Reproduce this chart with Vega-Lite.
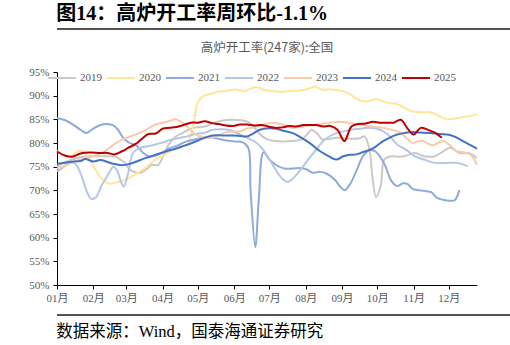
{
  "$schema": "https://vega.github.io/schema/vega-lite/v6.json",
  "padding": {"left": 3, "right": 0, "top": 4, "bottom": 0},
  "spacing": 11,
  "resolve": {"scale": {"color": "independent", "strokeWidth": "independent"}, "legend": {"color": "independent", "strokeWidth": "independent"}},
  "config": {
    "font": "Liberation Serif, Noto Sans CJK SC",
    "view": {"stroke": null}
  },
  "vconcat": [
    {
      "width": 502,
      "height": 2,
      "title": {"text": "图14：高炉开工率周环比-1.1%", "anchor": "start", "font": "Liberation Serif, Noto Sans CJK SC", "fontSize": 20, "fontWeight": "bold", "color": "#000000", "offset": 4},
      "data": {"values": [{"line": 1}]},
      "mark": {"type": "rule", "color": "#1a1a1a", "strokeWidth": 1.5},
      "encoding": {"y": {"field": "line", "type": "quantitative", "axis": null, "scale": {"domain": [0, 2]}}}
    },
    {
      "width": 420,
      "height": 213,
      "title": {"text": "高炉开工率(247家):全国", "anchor": "middle", "font": "Noto Sans CJK SC", "fontSize": 12.5, "fontWeight": "normal", "color": "#595959", "offset": 9},
      "data": {"values": [
        {"year":"2019","day":0,"rate":75.0},{"year":"2019","day":5,"rate":75.7},{"year":"2019","day":13,"rate":76.5},{"year":"2019","day":20,"rate":77.0},{"year":"2019","day":27,"rate":77.2},{"year":"2019","day":34,"rate":77.2},{"year":"2019","day":42,"rate":77.2},{"year":"2019","day":50,"rate":77.1},{"year":"2019","day":54,"rate":76.5},{"year":"2019","day":58,"rate":75.8},{"year":"2019","day":62,"rate":74.4},{"year":"2019","day":67,"rate":73.8},{"year":"2019","day":71,"rate":73.7},{"year":"2019","day":76,"rate":74.4},{"year":"2019","day":81,"rate":75.4},{"year":"2019","day":86,"rate":75.3},{"year":"2019","day":90,"rate":77.0},{"year":"2019","day":95,"rate":79.6},{"year":"2019","day":101,"rate":81.3},{"year":"2019","day":107,"rate":82.1},{"year":"2019","day":113,"rate":82.9},{"year":"2019","day":119,"rate":83.3},{"year":"2019","day":126,"rate":83.5},{"year":"2019","day":133,"rate":84.2},{"year":"2019","day":140,"rate":84.7},{"year":"2019","day":149,"rate":84.9},{"year":"2019","day":157,"rate":84.8},{"year":"2019","day":164,"rate":84.3},{"year":"2019","day":169,"rate":83.0},{"year":"2019","day":175,"rate":81.4},{"year":"2019","day":180,"rate":80.7},{"year":"2019","day":186,"rate":80.4},{"year":"2019","day":193,"rate":80.3},{"year":"2019","day":200,"rate":80.4},{"year":"2019","day":209,"rate":80.8},{"year":"2019","day":213,"rate":81.8},{"year":"2019","day":217,"rate":82.8},{"year":"2019","day":222,"rate":81.9},{"year":"2019","day":226,"rate":80.8},{"year":"2019","day":233,"rate":80.9},{"year":"2019","day":238,"rate":81.1},{"year":"2019","day":245,"rate":81.0},{"year":"2019","day":251,"rate":80.9},{"year":"2019","day":258,"rate":81.0},{"year":"2019","day":262,"rate":81.4},{"year":"2019","day":266,"rate":79.0},{"year":"2019","day":269,"rate":72.5},{"year":"2019","day":272,"rate":68.6},{"year":"2019","day":276,"rate":71.0},{"year":"2019","day":279,"rate":76.5},{"year":"2019","day":285,"rate":77.2},{"year":"2019","day":292,"rate":77.1},{"year":"2019","day":296,"rate":77.2},{"year":"2019","day":305,"rate":77.9},{"year":"2019","day":313,"rate":77.2},{"year":"2019","day":322,"rate":77.2},{"year":"2019","day":329,"rate":78.2},{"year":"2019","day":335,"rate":79.0},{"year":"2019","day":343,"rate":77.9},{"year":"2019","day":352,"rate":77.8},{"year":"2019","day":358,"rate":76.8},
        {"year":"2020","day":0,"rate":78.4},{"year":"2020","day":5,"rate":77.6},{"year":"2020","day":10,"rate":77.2},{"year":"2020","day":15,"rate":77.8},{"year":"2020","day":20,"rate":78.4},{"year":"2020","day":25,"rate":77.6},{"year":"2020","day":30,"rate":75.5},{"year":"2020","day":35,"rate":73.5},{"year":"2020","day":40,"rate":72.0},{"year":"2020","day":45,"rate":71.4},{"year":"2020","day":51,"rate":71.7},{"year":"2020","day":57,"rate":72.1},{"year":"2020","day":62,"rate":72.7},{"year":"2020","day":68,"rate":73.6},{"year":"2020","day":75,"rate":74.7},{"year":"2020","day":81,"rate":75.9},{"year":"2020","day":86,"rate":76.8},{"year":"2020","day":92,"rate":77.5},{"year":"2020","day":98,"rate":78.5},{"year":"2020","day":105,"rate":79.2},{"year":"2020","day":111,"rate":79.7},{"year":"2020","day":114,"rate":81.5},{"year":"2020","day":117,"rate":85.0},{"year":"2020","day":120,"rate":88.5},{"year":"2020","day":124,"rate":89.8},{"year":"2020","day":130,"rate":90.3},{"year":"2020","day":137,"rate":90.8},{"year":"2020","day":144,"rate":91.0},{"year":"2020","day":152,"rate":91.3},{"year":"2020","day":160,"rate":91.0},{"year":"2020","day":166,"rate":91.6},{"year":"2020","day":171,"rate":91.8},{"year":"2020","day":177,"rate":91.2},{"year":"2020","day":183,"rate":91.0},{"year":"2020","day":190,"rate":90.8},{"year":"2020","day":198,"rate":91.0},{"year":"2020","day":207,"rate":91.1},{"year":"2020","day":215,"rate":91.5},{"year":"2020","day":220,"rate":91.9},{"year":"2020","day":226,"rate":91.3},{"year":"2020","day":233,"rate":91.3},{"year":"2020","day":238,"rate":91.2},{"year":"2020","day":244,"rate":90.9},{"year":"2020","day":250,"rate":90.3},{"year":"2020","day":255,"rate":89.4},{"year":"2020","day":261,"rate":88.8},{"year":"2020","day":267,"rate":88.9},{"year":"2020","day":272,"rate":89.3},{"year":"2020","day":278,"rate":88.8},{"year":"2020","day":284,"rate":88.4},{"year":"2020","day":290,"rate":88.2},{"year":"2020","day":296,"rate":87.5},{"year":"2020","day":301,"rate":86.8},{"year":"2020","day":309,"rate":86.5},{"year":"2020","day":318,"rate":86.5},{"year":"2020","day":324,"rate":85.9},{"year":"2020","day":330,"rate":85.2},{"year":"2020","day":335,"rate":85.0},{"year":"2020","day":341,"rate":85.2},{"year":"2020","day":346,"rate":85.5},{"year":"2020","day":352,"rate":85.7},{"year":"2020","day":358,"rate":86.1},
        {"year":"2021","day":0,"rate":85.3},{"year":"2021","day":7,"rate":84.8},{"year":"2021","day":13,"rate":84.0},{"year":"2021","day":20,"rate":82.8},{"year":"2021","day":25,"rate":82.1},{"year":"2021","day":30,"rate":82.9},{"year":"2021","day":37,"rate":83.8},{"year":"2021","day":43,"rate":84.0},{"year":"2021","day":48,"rate":83.7},{"year":"2021","day":52,"rate":82.8},{"year":"2021","day":57,"rate":80.9},{"year":"2021","day":62,"rate":80.0},{"year":"2021","day":68,"rate":79.4},{"year":"2021","day":73,"rate":78.0},{"year":"2021","day":78,"rate":77.2},{"year":"2021","day":84,"rate":77.3},{"year":"2021","day":90,"rate":78.0},{"year":"2021","day":96,"rate":78.9},{"year":"2021","day":103,"rate":79.5},{"year":"2021","day":110,"rate":80.3},{"year":"2021","day":118,"rate":80.8},{"year":"2021","day":126,"rate":81.2},{"year":"2021","day":135,"rate":81.0},{"year":"2021","day":143,"rate":80.6},{"year":"2021","day":152,"rate":80.3},{"year":"2021","day":158,"rate":80.2},{"year":"2021","day":163,"rate":79.0},{"year":"2021","day":165,"rate":70.0},{"year":"2021","day":169,"rate":58.0},{"year":"2021","day":172,"rate":68.0},{"year":"2021","day":176,"rate":78.0},{"year":"2021","day":181,"rate":76.5},{"year":"2021","day":187,"rate":75.3},{"year":"2021","day":194,"rate":74.6},{"year":"2021","day":201,"rate":74.6},{"year":"2021","day":207,"rate":74.7},{"year":"2021","day":213,"rate":74.4},{"year":"2021","day":218,"rate":73.7},{"year":"2021","day":224,"rate":73.9},{"year":"2021","day":230,"rate":73.5},{"year":"2021","day":237,"rate":72.2},{"year":"2021","day":241,"rate":70.9},{"year":"2021","day":245,"rate":70.0},{"year":"2021","day":250,"rate":71.4},{"year":"2021","day":255,"rate":74.0},{"year":"2021","day":261,"rate":77.3},{"year":"2021","day":267,"rate":78.5},{"year":"2021","day":272,"rate":78.1},{"year":"2021","day":279,"rate":75.6},{"year":"2021","day":285,"rate":72.0},{"year":"2021","day":290,"rate":70.9},{"year":"2021","day":295,"rate":71.5},{"year":"2021","day":299,"rate":71.3},{"year":"2021","day":303,"rate":70.3},{"year":"2021","day":309,"rate":70.0},{"year":"2021","day":315,"rate":69.8},{"year":"2021","day":319,"rate":69.6},{"year":"2021","day":324,"rate":68.4},{"year":"2021","day":329,"rate":68.0},{"year":"2021","day":335,"rate":67.8},{"year":"2021","day":339,"rate":67.9},{"year":"2021","day":343,"rate":70.1},
        {"year":"2022","day":0,"rate":74.0},{"year":"2022","day":5,"rate":74.8},{"year":"2022","day":11,"rate":76.0},{"year":"2022","day":16,"rate":75.5},{"year":"2022","day":21,"rate":73.0},{"year":"2022","day":25,"rate":70.0},{"year":"2022","day":29,"rate":68.2},{"year":"2022","day":33,"rate":68.5},{"year":"2022","day":38,"rate":71.0},{"year":"2022","day":44,"rate":73.5},{"year":"2022","day":48,"rate":75.0},{"year":"2022","day":51,"rate":74.3},{"year":"2022","day":55,"rate":71.5},{"year":"2022","day":57,"rate":70.8},{"year":"2022","day":61,"rate":74.0},{"year":"2022","day":65,"rate":78.0},{"year":"2022","day":71,"rate":79.0},{"year":"2022","day":77,"rate":79.3},{"year":"2022","day":84,"rate":79.7},{"year":"2022","day":90,"rate":80.1},{"year":"2022","day":96,"rate":80.6},{"year":"2022","day":103,"rate":81.0},{"year":"2022","day":111,"rate":81.4},{"year":"2022","day":118,"rate":81.9},{"year":"2022","day":125,"rate":82.1},{"year":"2022","day":133,"rate":82.8},{"year":"2022","day":141,"rate":82.9},{"year":"2022","day":148,"rate":82.7},{"year":"2022","day":156,"rate":81.8},{"year":"2022","day":163,"rate":81.0},{"year":"2022","day":169,"rate":80.2},{"year":"2022","day":175,"rate":78.8},{"year":"2022","day":180,"rate":77.0},{"year":"2022","day":186,"rate":74.5},{"year":"2022","day":192,"rate":72.5},{"year":"2022","day":197,"rate":71.8},{"year":"2022","day":203,"rate":73.0},{"year":"2022","day":209,"rate":74.8},{"year":"2022","day":214,"rate":76.5},{"year":"2022","day":220,"rate":78.3},{"year":"2022","day":228,"rate":80.7},{"year":"2022","day":238,"rate":82.1},{"year":"2022","day":245,"rate":82.5},{"year":"2022","day":251,"rate":82.8},{"year":"2022","day":258,"rate":83.0},{"year":"2022","day":265,"rate":83.2},{"year":"2022","day":273,"rate":83.0},{"year":"2022","day":282,"rate":81.8},{"year":"2022","day":290,"rate":79.7},{"year":"2022","day":298,"rate":78.5},{"year":"2022","day":305,"rate":77.2},{"year":"2022","day":313,"rate":76.5},{"year":"2022","day":322,"rate":75.8},{"year":"2022","day":333,"rate":75.8},{"year":"2022","day":341,"rate":75.8},{"year":"2022","day":350,"rate":75.1},
        {"year":"2023","day":0,"rate":74.6},{"year":"2023","day":7,"rate":75.2},{"year":"2023","day":13,"rate":75.9},{"year":"2023","day":20,"rate":76.5},{"year":"2023","day":27,"rate":77.0},{"year":"2023","day":34,"rate":77.5},{"year":"2023","day":41,"rate":78.3},{"year":"2023","day":48,"rate":79.6},{"year":"2023","day":54,"rate":80.5},{"year":"2023","day":58,"rate":81.0},{"year":"2023","day":65,"rate":81.6},{"year":"2023","day":72,"rate":82.3},{"year":"2023","day":76,"rate":82.8},{"year":"2023","day":84,"rate":83.9},{"year":"2023","day":95,"rate":84.6},{"year":"2023","day":101,"rate":85.0},{"year":"2023","day":105,"rate":84.6},{"year":"2023","day":112,"rate":83.2},{"year":"2023","day":118,"rate":81.8},{"year":"2023","day":125,"rate":81.2},{"year":"2023","day":132,"rate":81.1},{"year":"2023","day":138,"rate":81.6},{"year":"2023","day":144,"rate":82.3},{"year":"2023","day":150,"rate":82.4},{"year":"2023","day":157,"rate":82.5},{"year":"2023","day":161,"rate":83.0},{"year":"2023","day":168,"rate":83.3},{"year":"2023","day":177,"rate":83.9},{"year":"2023","day":184,"rate":84.3},{"year":"2023","day":192,"rate":83.9},{"year":"2023","day":201,"rate":83.2},{"year":"2023","day":210,"rate":83.5},{"year":"2023","day":221,"rate":83.9},{"year":"2023","day":231,"rate":84.2},{"year":"2023","day":241,"rate":84.5},{"year":"2023","day":250,"rate":84.2},{"year":"2023","day":258,"rate":83.9},{"year":"2023","day":268,"rate":83.5},{"year":"2023","day":278,"rate":83.2},{"year":"2023","day":285,"rate":82.8},{"year":"2023","day":292,"rate":82.3},{"year":"2023","day":298,"rate":81.0},{"year":"2023","day":303,"rate":80.0},{"year":"2023","day":307,"rate":80.3},{"year":"2023","day":312,"rate":80.4},{"year":"2023","day":316,"rate":79.9},{"year":"2023","day":320,"rate":79.5},{"year":"2023","day":329,"rate":80.4},{"year":"2023","day":335,"rate":79.5},{"year":"2023","day":341,"rate":78.3},{"year":"2023","day":346,"rate":78.1},{"year":"2023","day":352,"rate":77.6},{"year":"2023","day":355,"rate":76.8},{"year":"2023","day":358,"rate":75.4},
        {"year":"2024","day":0,"rate":75.6},{"year":"2024","day":11,"rate":76.0},{"year":"2024","day":20,"rate":76.2},{"year":"2024","day":24,"rate":76.6},{"year":"2024","day":31,"rate":76.1},{"year":"2024","day":37,"rate":76.4},{"year":"2024","day":43,"rate":76.0},{"year":"2024","day":48,"rate":75.6},{"year":"2024","day":56,"rate":75.3},{"year":"2024","day":62,"rate":75.6},{"year":"2024","day":68,"rate":76.1},{"year":"2024","day":73,"rate":76.6},{"year":"2024","day":79,"rate":77.1},{"year":"2024","day":86,"rate":77.7},{"year":"2024","day":94,"rate":78.3},{"year":"2024","day":101,"rate":78.8},{"year":"2024","day":107,"rate":79.3},{"year":"2024","day":115,"rate":80.0},{"year":"2024","day":122,"rate":80.7},{"year":"2024","day":128,"rate":81.3},{"year":"2024","day":133,"rate":81.6},{"year":"2024","day":141,"rate":81.6},{"year":"2024","day":150,"rate":81.6},{"year":"2024","day":156,"rate":81.5},{"year":"2024","day":162,"rate":81.4},{"year":"2024","day":167,"rate":82.0},{"year":"2024","day":173,"rate":82.8},{"year":"2024","day":180,"rate":83.1},{"year":"2024","day":187,"rate":83.0},{"year":"2024","day":193,"rate":82.6},{"year":"2024","day":201,"rate":82.1},{"year":"2024","day":207,"rate":81.3},{"year":"2024","day":213,"rate":80.4},{"year":"2024","day":218,"rate":79.5},{"year":"2024","day":224,"rate":78.3},{"year":"2024","day":231,"rate":77.3},{"year":"2024","day":238,"rate":76.5},{"year":"2024","day":244,"rate":77.2},{"year":"2024","day":250,"rate":77.5},{"year":"2024","day":255,"rate":77.6},{"year":"2024","day":261,"rate":78.1},{"year":"2024","day":267,"rate":78.6},{"year":"2024","day":272,"rate":79.3},{"year":"2024","day":278,"rate":80.4},{"year":"2024","day":284,"rate":81.2},{"year":"2024","day":290,"rate":81.8},{"year":"2024","day":296,"rate":82.1},{"year":"2024","day":303,"rate":82.3},{"year":"2024","day":309,"rate":82.2},{"year":"2024","day":318,"rate":82.1},{"year":"2024","day":326,"rate":81.9},{"year":"2024","day":335,"rate":81.7},{"year":"2024","day":341,"rate":81.1},{"year":"2024","day":346,"rate":80.4},{"year":"2024","day":352,"rate":79.6},{"year":"2024","day":358,"rate":78.8},
        {"year":"2025","day":0,"rate":78.2},{"year":"2025","day":7,"rate":77.3},{"year":"2025","day":13,"rate":77.1},{"year":"2025","day":20,"rate":77.8},{"year":"2025","day":28,"rate":78.0},{"year":"2025","day":37,"rate":77.9},{"year":"2025","day":43,"rate":77.9},{"year":"2025","day":49,"rate":77.6},{"year":"2025","day":55,"rate":78.2},{"year":"2025","day":61,"rate":79.0},{"year":"2025","day":67,"rate":79.8},{"year":"2025","day":72,"rate":80.8},{"year":"2025","day":78,"rate":81.9},{"year":"2025","day":84,"rate":82.0},{"year":"2025","day":90,"rate":83.0},{"year":"2025","day":96,"rate":83.2},{"year":"2025","day":102,"rate":83.4},{"year":"2025","day":108,"rate":83.8},{"year":"2025","day":114,"rate":84.3},{"year":"2025","day":120,"rate":84.3},{"year":"2025","day":126,"rate":84.6},{"year":"2025","day":132,"rate":84.2},{"year":"2025","day":138,"rate":84.0},{"year":"2025","day":144,"rate":83.7},{"year":"2025","day":150,"rate":83.6},{"year":"2025","day":156,"rate":83.9},{"year":"2025","day":162,"rate":83.9},{"year":"2025","day":168,"rate":83.7},{"year":"2025","day":174,"rate":83.8},{"year":"2025","day":180,"rate":83.5},{"year":"2025","day":186,"rate":83.2},{"year":"2025","day":192,"rate":83.3},{"year":"2025","day":198,"rate":83.6},{"year":"2025","day":204,"rate":83.5},{"year":"2025","day":210,"rate":83.8},{"year":"2025","day":215,"rate":83.8},{"year":"2025","day":221,"rate":83.8},{"year":"2025","day":227,"rate":83.5},{"year":"2025","day":233,"rate":83.6},{"year":"2025","day":239,"rate":82.8},{"year":"2025","day":245,"rate":80.4},{"year":"2025","day":251,"rate":83.5},{"year":"2025","day":257,"rate":84.0},{"year":"2025","day":263,"rate":84.1},{"year":"2025","day":269,"rate":84.5},{"year":"2025","day":275,"rate":84.3},{"year":"2025","day":281,"rate":84.3},{"year":"2025","day":287,"rate":84.3},{"year":"2025","day":293,"rate":84.9},{"year":"2025","day":299,"rate":83.0},{"year":"2025","day":304,"rate":81.8},{"year":"2025","day":310,"rate":83.2},{"year":"2025","day":316,"rate":82.8},{"year":"2025","day":322,"rate":82.2},{"year":"2025","day":328,"rate":81.1}
      ]},
      "mark": {"type": "line", "interpolate": "catmull-rom"},
      "encoding": {
        "x": {
          "field": "day", "type": "quantitative",
          "scale": {"domain": [0, 358], "nice": false, "zero": false},
          "axis": {
            "values": [0, 31, 59, 90, 120, 151, 181, 212, 243, 273, 304, 334],
            "labelExpr": "['01月','02月','03月','04月','05月','06月','07月','08月','09月','10月','11月','12月'][indexof([0,31,59,90,120,151,181,212,243,273,304,334], datum.value)]",
            "title": null, "grid": false, "labelFlush": false,
            "domainColor": "#000000", "tickColor": "#000000", "tickSize": 4,
            "labelFont": "Liberation Serif, Noto Sans CJK SC", "labelFontSize": 11, "labelColor": "#595959", "labelPadding": 3
          }
        },
        "y": {
          "field": "rate", "type": "quantitative",
          "scale": {"domain": [50, 95], "nice": false, "zero": false},
          "axis": {
            "values": [50, 55, 60, 65, 70, 75, 80, 85, 90, 95],
            "labelExpr": "datum.value + '%'",
            "title": null, "grid": false, "labelFlush": false,
            "domainColor": "#000000", "tickColor": "#000000", "tickSize": 4,
            "labelFont": "Liberation Serif", "labelFontSize": 11, "labelColor": "#595959", "labelPadding": 4,
            "minExtent": 54
          }
        },
        "color": {
          "field": "year", "type": "ordinal",
          "scale": {"domain": ["2019", "2020", "2021", "2022", "2023", "2024", "2025"], "range": ["#C9C9C9", "#FFE699", "#8FAADC", "#B4C7E7", "#F8CBAD", "#4472C4", "#C00000"]},
          "legend": {
            "orient": "none", "legendX": -10, "legendY": -9, "direction": "horizontal", "columns": 7,
            "title": null, "symbolType": "stroke", "symbolSize": 784, "labelFont": "Liberation Serif",
            "labelFontSize": 11, "labelColor": "#595959", "labelOffset": 3, "columnPadding": 1, "padding": 0
          }
        },
        "strokeWidth": {
          "field": "year", "type": "ordinal",
          "scale": {"domain": ["2019", "2020", "2021", "2022", "2023", "2024", "2025"], "range": [2, 2, 2, 2, 2, 2, 3]}
        }
      }
    },
    {
      "width": 502,
      "height": 2,
      "title": {"text": "数据来源：Wind，国泰海通证券研究", "orient": "bottom", "anchor": "start", "font": "Liberation Serif, Noto Sans CJK SC", "fontSize": 16.5, "fontWeight": "normal", "color": "#000000", "offset": 8},
      "data": {"values": [{"line": 1}]},
      "mark": {"type": "rule", "color": "#1a1a1a", "strokeWidth": 1.5},
      "encoding": {"y": {"field": "line", "type": "quantitative", "axis": null, "scale": {"domain": [0, 2]}}}
    }
  ]
}
